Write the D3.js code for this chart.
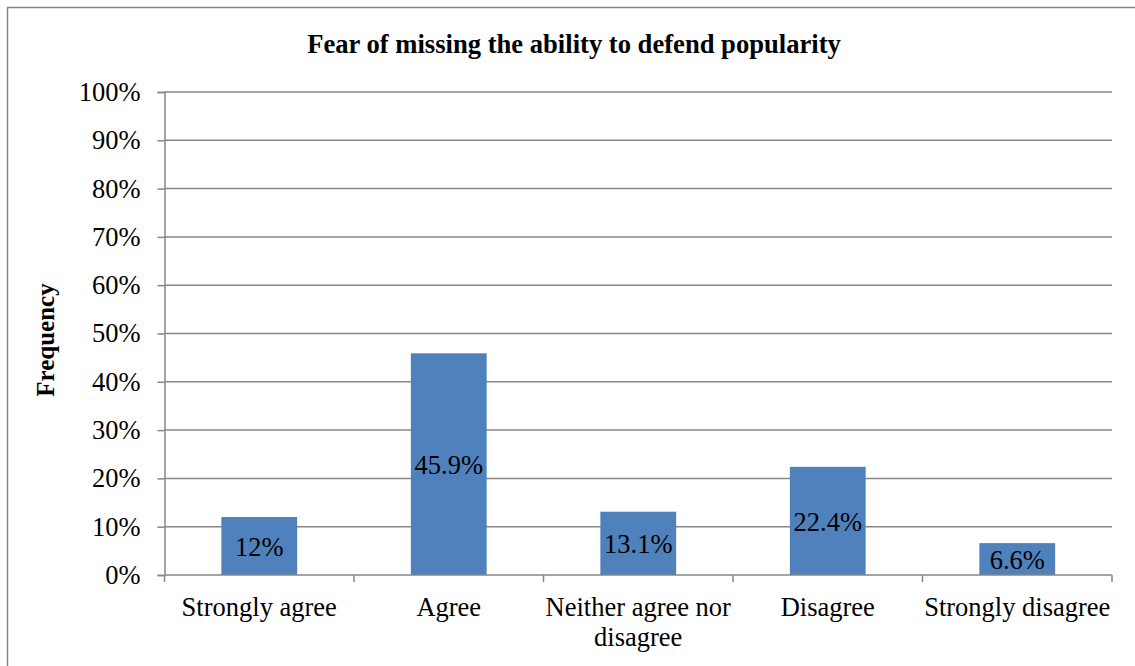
<!DOCTYPE html>
<html><head><meta charset="utf-8">
<script src="https://cdn.jsdelivr.net/npm/d3@7"></script>
<style>body{margin:0;background:#fff}svg{display:block}</style>
</head><body>
<script>
const categories = [["Strongly agree"], ["Agree"], ["Neither agree nor", "disagree"], ["Disagree"], ["Strongly disagree"]];
const values = [12, 45.9, 13.1, 22.4, 6.6];
const valueLabels = ["12%", "45.9%", "13.1%", "22.4%", "6.6%"];
const yTicks = [0,10,20,30,40,50,60,70,80,90,100];
const title = "Fear of missing the ability to defend popularity";
const yTitle = "Frequency";

const W = 1135, H = 666;
const m = {left:164.5, right:1112, top:92, bottom:575};
const svg = d3.select("body").append("svg").attr("width", W).attr("height", H);
const font = "Liberation Serif, Times New Roman, serif";
const grid = "#868686";

svg.append("rect").attr("x",7.5).attr("y",7.5).attr("width",W+10).attr("height",H+10)
  .attr("fill","none").attr("stroke",grid).attr("stroke-width",1.5);

const x = d3.scaleBand().domain(d3.range(categories.length)).range([m.left, m.right]).paddingInner(0.6).paddingOuter(0.3);
const xb = d3.scaleBand().domain(d3.range(categories.length)).range([m.left, m.right]);
const y = d3.scaleLinear().domain([0,100]).range([m.bottom, m.top]);

// gridlines
svg.append("g").selectAll("line").data(yTicks.slice(1)).join("line")
  .attr("x1", m.left).attr("x2", m.right).attr("y1", d=>y(d)).attr("y2", d=>y(d))
  .attr("stroke", grid).attr("stroke-width", 1.5);

// y axis
const ya = svg.append("g").attr("transform",`translate(${m.left},0)`)
  .call(d3.axisLeft(y).tickValues(yTicks).tickFormat(d=>d+"%").tickSize(7).tickPadding(17));
ya.attr("font-family", font).attr("font-size", 26.5);
ya.select(".domain").attr("stroke",grid).attr("stroke-width",1.5);
ya.selectAll(".tick line").attr("stroke",grid).attr("stroke-width",1.5);
ya.selectAll("text").attr("fill","#000");

// bars
svg.append("g").selectAll("rect").data(values).join("rect")
  .attr("x",(d,i)=>x(i)).attr("width",x.bandwidth())
  .attr("y",d=>y(d)).attr("height",d=>y(0)-y(d)).attr("fill","#4F81BD");

// x axis
const xa = svg.append("g").attr("transform",`translate(0,${m.bottom})`);
xa.append("line").attr("x1",m.left).attr("x2",m.right).attr("stroke",grid).attr("stroke-width",1.5);
const bounds = d3.range(categories.length+1).map(i => i<categories.length ? xb(i) : m.right);
xa.selectAll(".tk").data(bounds).join("line").attr("class","tk")
  .attr("x1",d=>d).attr("x2",d=>d).attr("y1",0).attr("y2",7).attr("stroke",grid).attr("stroke-width",1.5);
xa.selectAll(".lbl").data(categories).join("text").attr("class","lbl")
  .attr("x",(d,i)=>xb(i)+xb.bandwidth()/2).attr("y",41)
  .attr("text-anchor","middle").attr("font-family",font).attr("font-size",26.5)
  .each(function(d){
    d3.select(this).selectAll("tspan").data(d).join("tspan")
      .attr("x", d3.select(this).attr("x")).attr("dy",(t,j)=>j?30:0).text(t=>t);
  });

// value labels
svg.append("g").selectAll("text").data(values).join("text")
  .attr("x",(d,i)=>x(i)+x.bandwidth()/2).attr("y",d=>(y(d)+y(0))/2+10)
  .attr("text-anchor","middle").attr("font-family",font).attr("font-size",26.5)
  .text((d,i)=>valueLabels[i]);

// title
svg.append("text").attr("x",574).attr("y",53).attr("text-anchor","middle")
  .attr("font-family",font).attr("font-size",26.6).attr("font-weight","bold").text(title);

svg.append("text").attr("transform","translate(54,340) rotate(-90)").attr("text-anchor","middle")
  .attr("font-family",font).attr("font-size",25).attr("font-weight","bold").text(yTitle);
</script>
</body></html>
